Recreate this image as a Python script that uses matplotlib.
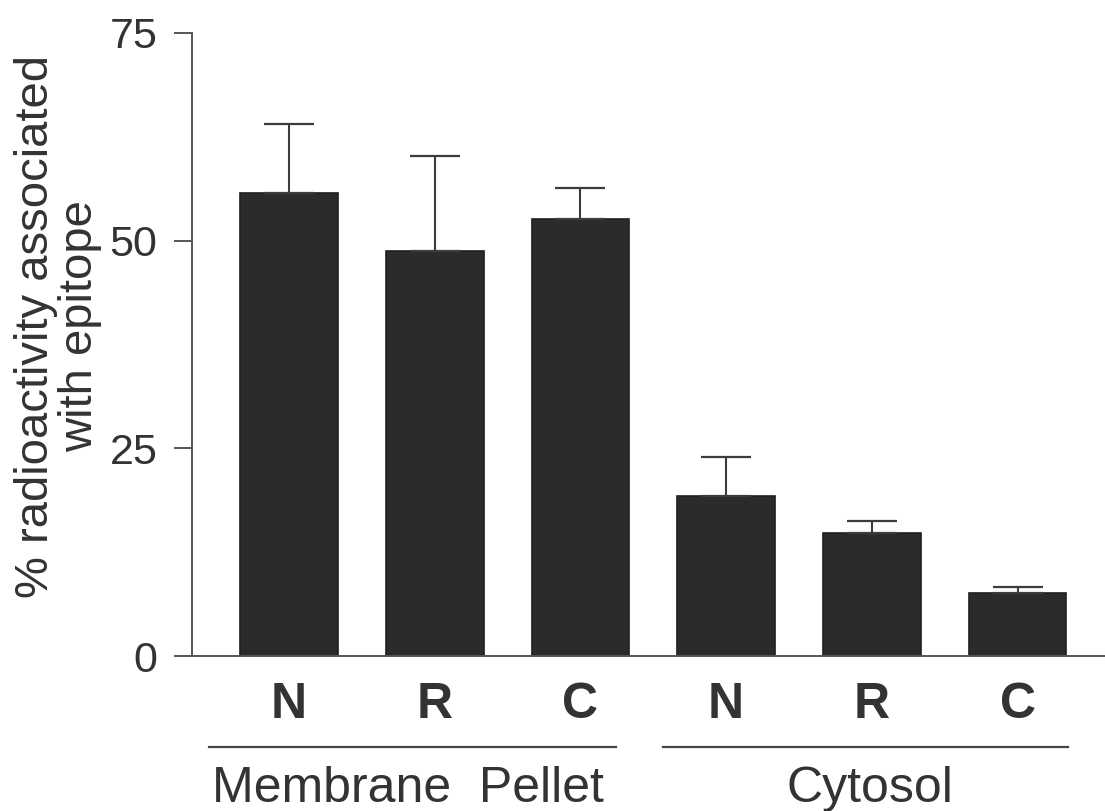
import matplotlib
matplotlib.use("Agg")
import matplotlib.pyplot as plt

# Fraction / domain labels and measured values
fractions = ["Membrane  Pellet", "Cytosol"]
domains = ["N", "R", "C", "N", "R", "C"]
percent_bound = [55.7, 48.7, 52.6, 19.3, 14.8, 7.6]
sem = [8.3, 11.5, 3.7, 4.7, 1.5, 0.7]
y_ticks = [0, 25, 50, 75]

DPI = 100
fig = plt.figure(figsize=(11.05, 8.11), dpi=DPI)
W, H = 1105, 811

def fx(px):
    return px / W

def fy(py):
    return 1 - py / H

ax_left, ax_right, ax_top, ax_bot = 192, 1105, 33, 656
ax = fig.add_axes([fx(ax_left), fy(ax_bot), fx(ax_right - ax_left),
                   (ax_bot - ax_top) / H])

regular = "Liberation Sans"
text_col = "#333333"
axis_col = "#555555"

xs = list(range(len(percent_bound)))
ax.bar(xs, percent_bound, width=0.67, color="#2b2b2b", edgecolor="#1f1f1f",
       linewidth=1.2, zorder=2)
ax.errorbar(xs, percent_bound, yerr=[[0] * len(sem), sem], fmt="none",
            ecolor="#3c3c3c", elinewidth=1.5, capsize=18, capthick=1.6, zorder=3)

ax.set_xlim(-0.666, 5.60)
ax.set_ylim(0, 75)
ax.set_yticks(y_ticks)
ax.set_yticklabels([str(t) for t in y_ticks], fontsize=31, family=regular,
                   color=text_col)
ax.tick_params(axis="y", length=13, width=1.4, color=axis_col, pad=12)
ax.set_xticks([])

for side in ("top", "right"):
    ax.spines[side].set_visible(False)
for side in ("left", "bottom"):
    ax.spines[side].set_color(axis_col)
    ax.spines[side].set_linewidth(1.4)

# Domain letters beneath each bar
blend = matplotlib.transforms.blended_transform_factory(ax.transData, fig.transFigure)
for x, lab in zip(xs, domains):
    ax.text(x, fy(718), lab, transform=blend, ha="center", va="baseline",
            fontsize=36, fontweight="bold", family=regular, color=text_col,
            clip_on=False)

# Group underlines and fraction names
group_spans = [(-0.55, 2.245), (2.567, 5.347)]
group_centres = [0.817, 3.99]
for (x0, x1), cx, name in zip(group_spans, group_centres, fractions):
    ax.plot([x0, x1], [fy(747), fy(747)], transform=blend, color="#444444",
            lw=1.6, clip_on=False)
    ax.text(cx, fy(802), name, transform=blend, ha="center", va="baseline",
            fontsize=36, family=regular, color=text_col, clip_on=False)

fig.text(fx(58), fy(326), "% radioactivity associated\nwith epitope",
         rotation=90, ha="center", va="center", multialignment="center",
         fontsize=34, family=regular, color=text_col, linespacing=1.0)

fig.savefig("out.png", dpi=DPI, facecolor="white")
